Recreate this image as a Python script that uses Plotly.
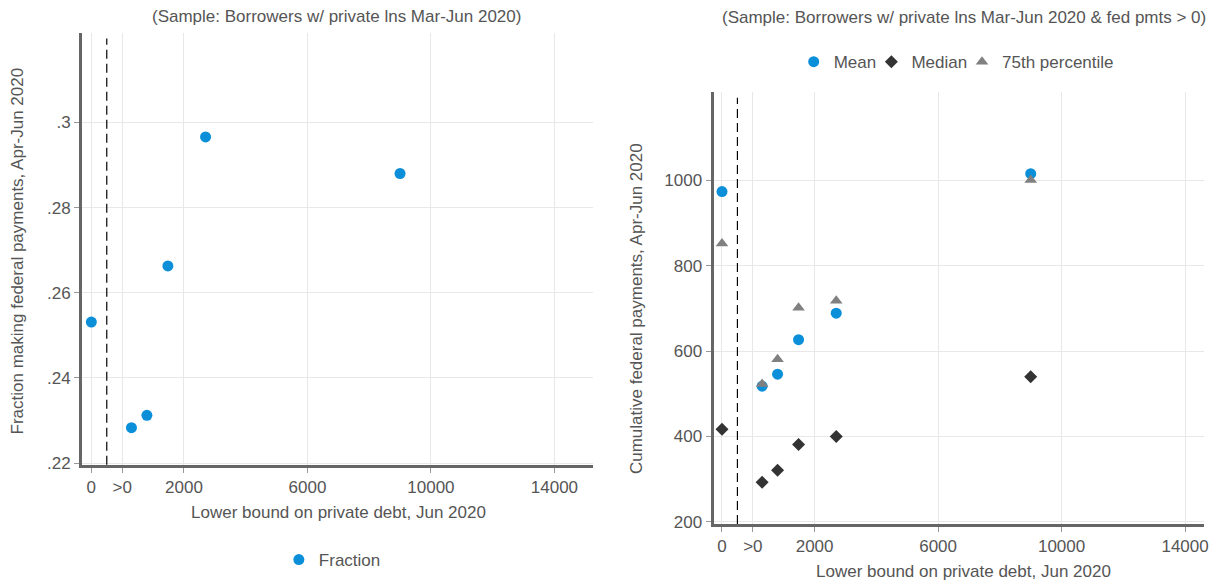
import plotly.graph_objects as go

# ---- data ----
x_bins = [-1000, 300, 800, 1480, 2700, 9000]   # -1000 plotted at tick "0"
fraction = [0.2531, 0.2283, 0.2312, 0.2663, 0.2966, 0.2880]
mean_pay = [974, 518, 546, 627, 689, 1016]
median_pay = [417, 293, 321, 381, 400, 540]
p75_pay = [852, 523, 581, 702, 718, 1001]

x_tickvals = [-1000, 0, 2000, 6000, 10000, 14000]
x_ticktext = ["0", ">0", "2000", "6000", "10000", "14000"]
yl_tickvals = [0.22, 0.24, 0.26, 0.28, 0.30]
yl_ticktext = [".22", ".24", ".26", ".28", ".3"]
yr_tickvals = [200, 400, 600, 800, 1000]
divider_x = -500

W, H = 1209, 586
FONT = "Liberation Sans, Arial, sans-serif"
FS = 17
TXT = "#555555"
BLUE = "#0a8fd8"

fig = go.Figure()
fig.add_trace(go.Scatter(x=x_bins, y=fraction, mode="markers", name="Fraction",
                         marker=dict(symbol="circle", size=11, color=BLUE),
                         xaxis="x", yaxis="y", legend="legend", showlegend=True))
fig.add_trace(go.Scatter(x=x_bins, y=mean_pay, mode="markers", name="Mean",
                         marker=dict(symbol="circle", size=11, color=BLUE),
                         xaxis="x2", yaxis="y2", legend="legend2", showlegend=True))
fig.add_trace(go.Scatter(x=x_bins, y=median_pay, mode="markers", name="Median",
                         marker=dict(symbol="diamond", size=10, color="#333333"),
                         xaxis="x2", yaxis="y2", legend="legend3", showlegend=True))
fig.add_trace(go.Scatter(x=x_bins, y=p75_pay, mode="markers", name="75th percentile",
                         marker=dict(symbol="triangle-up", size=11, color="#808080"),
                         xaxis="x2", yaxis="y2", legend="legend4", showlegend=True))

def px(x):
    return x / W

def py(y):
    return 1 - y / H

common_axis = dict(showline=True, linewidth=3, linecolor="#666666",
                   showgrid=True, gridcolor="#e8e8e8", gridwidth=1,
                   ticks="outside", ticklen=5, tickcolor="#999999", tickwidth=1,
                   tickfont=dict(family=FONT, size=FS, color=TXT),
                   ticklabeloverflow="allow",
                   zeroline=False, mirror=False)

def leg(text_left, ycen):
    return dict(orientation="h", x=px(text_left - 37), y=py(ycen), xanchor="left",
                yanchor="middle", font=dict(family=FONT, size=FS, color=TXT),
                bgcolor="rgba(0,0,0,0)", borderwidth=0)

# bottom legend kept fully inside the figure so it does not push the margins
bottom_leg = leg(317, 0)
bottom_leg.update(y=0, yanchor="bottom")

fig.update_layout(
    width=W, height=H, margin=dict(l=0, r=0, t=0, b=0),
    paper_bgcolor="white", plot_bgcolor="white",
    font=dict(family=FONT, size=FS, color=TXT),
    showlegend=True,
    xaxis=dict(domain=[px(82.5), px(595)], range=[-1297, 15235], anchor="y",
               tickvals=x_tickvals, ticktext=x_ticktext, **common_axis),
    yaxis=dict(domain=[py(471.2), py(33)], range=[0.2196, 0.3211], anchor="x",
               tickvals=yl_tickvals, ticktext=yl_ticktext, **common_axis),
    xaxis2=dict(domain=[px(716.5), 1.0], range=[-1274, 14613], anchor="y2",
                tickvals=x_tickvals, ticktext=x_ticktext, **common_axis),
    yaxis2=dict(domain=[py(531.2), py(93)], range=[195, 1208], anchor="x2",
                tickvals=yr_tickvals, **common_axis),
    legend=bottom_leg,
    legend2=leg(834, 63),
    legend3=leg(912, 63),
    legend4=leg(1003, 63),
)

# dashed divider lines
fig.add_shape(type="line", xref="x", yref="y domain", x0=divider_x, x1=divider_x, y0=0, y1=0.986,
              line=dict(color="black", width=1.2, dash="9px,5px"))
fig.add_shape(type="line", xref="x2", yref="y2 domain", x0=divider_x, x1=divider_x, y0=0, y1=0.986,
              line=dict(color="black", width=1.2, dash="9px,5px"))

ann = [
    ("(Sample: Borrowers w/ private lns Mar-Jun 2020)", 338, 17, 0),
    ("(Sample: Borrowers w/ private lns Mar-Jun 2020 & fed pmts > 0)", 968, 18, 0),
    ("Lower bound on private debt, Jun 2020", 340, 520, 0),
    ("Lower bound on private debt, Jun 2020", 968, 579, 0),
    ("Fraction making federal payments, Apr-Jun 2020", 18, 254, -90),
    ("Cumulative federal payments, Apr-Jun 2020", 639, 313, -90),
]
for text, x, y, ang in ann:
    fig.add_annotation(text=text, x=px(x), y=py(y), xref="paper", yref="paper",
                       xanchor="center", yanchor="middle", showarrow=False, textangle=ang,
                       font=dict(family=FONT, size=FS, color=TXT))

fig.write_html("out.html")
